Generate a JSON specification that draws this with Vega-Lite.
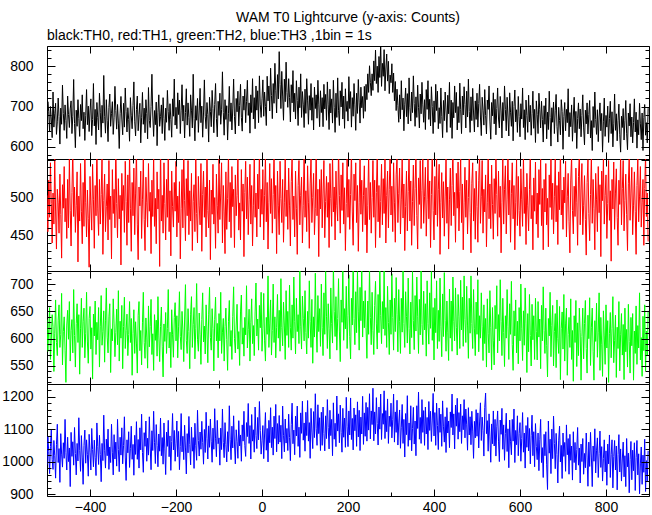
{
"$schema": "https://vega.github.io/schema/vega-lite/v6.json",
"background": "white",
"padding": {"left": 1, "right": 4, "top": 10, "bottom": 0},
"spacing": 0,
"bounds": "flush",
"title": {"text": "WAM T0 Lightcurve (y-axis: Counts)", "fontSize": 14, "font": "Liberation Sans", "fontWeight": "normal", "anchor": "middle", "frame": "group", "offset": 4, "color": "black"},
"config": {"view": {"stroke": "black", "strokeWidth": 1}, "concat": {"spacing": 0}, "font": "Liberation Sans"},
"data": {"values": [
{"t":-500,"a":655,"b":503,"c":635,"d":992},{"t":-498,"a":712,"b":455,"c":577,"d":1079},{"t":-496,"a":687,"b":523,"c":617,"d":1032},{"t":-494,"a":638,"b":474,"c":657,"d":964},{"t":-492,"a":700,"b":546,"c":562,"d":1047},{"t":-490,"a":669,"b":492,"c":598,"d":1100},{"t":-488,"a":623,"b":440,"c":644,"d":1007},{"t":-486,"a":736,"b":506,"c":622,"d":977},{"t":-484,"a":649,"b":465,"c":540,"d":1066},{"t":-482,"a":682,"b":553,"c":610,"d":1019},
{"t":-480,"a":708,"b":481,"c":671,"d":950},{"t":-478,"a":631,"b":432,"c":593,"d":1053},{"t":-476,"a":662,"b":511,"c":569,"d":1116},{"t":-474,"a":721,"b":493,"c":634,"d":998},{"t":-472,"a":675,"b":453,"c":662,"d":1041},{"t":-470,"a":607,"b":531,"c":584,"d":937},{"t":-468,"a":696,"b":478,"c":608,"d":1087},{"t":-466,"a":656,"b":420,"c":683,"d":1024},{"t":-464,"a":753,"b":517,"c":552,"d":984},{"t":-462,"a":683,"b":486,"c":613,"d":1059},
{"t":-460,"a":641,"b":541,"c":640,"d":1011},{"t":-458,"a":704,"b":468,"c":579,"d":1131},{"t":-456,"a":665,"b":499,"c":520,"d":1028},{"t":-454,"a":621,"b":446,"c":625,"d":975},{"t":-452,"a":726,"b":524,"c":652,"d":1076},{"t":-450,"a":680,"b":460,"c":599,"d":1001},{"t":-448,"a":648,"b":551,"c":668,"d":1043},{"t":-446,"a":694,"b":483,"c":559,"d":924},{"t":-444,"a":714,"b":436,"c":615,"d":1091},{"t":-442,"a":633,"b":507,"c":635,"d":1017},
{"t":-440,"a":676,"b":565,"c":574,"d":1062},{"t":-438,"a":767,"b":475,"c":690,"d":990},{"t":-436,"a":658,"b":514,"c":606,"d":1106},{"t":-434,"a":598,"b":454,"c":548,"d":1026},{"t":-432,"a":691,"b":490,"c":628,"d":960},{"t":-430,"a":651,"b":534,"c":664,"d":1057},{"t":-428,"a":717,"b":415,"c":593,"d":1003},{"t":-426,"a":670,"b":502,"c":644,"d":1136},{"t":-424,"a":626,"b":469,"c":535,"d":1036},{"t":-422,"a":705,"b":545,"c":618,"d":971},
{"t":-420,"a":665,"b":482,"c":674,"d":1081},{"t":-418,"a":729,"b":439,"c":584,"d":1015},{"t":-416,"a":645,"b":520,"c":632,"d":931},{"t":-414,"a":686,"b":462,"c":656,"d":1051},{"t":-412,"a":616,"b":560,"c":565,"d":1098},{"t":-410,"a":677,"b":493,"c":610,"d":996},{"t":-408,"a":742,"b":448,"c":685,"d":1068},{"t":-406,"a":655,"b":510,"c":594,"d":1022},{"t":-404,"a":701,"b":472,"c":555,"d":956},{"t":-402,"a":638,"b":408,"c":637,"d":1085},
{"t":-400,"a":689,"b":528,"c":659,"d":1030},{"t":-398,"a":719,"b":489,"c":581,"d":975},{"t":-396,"a":628,"b":457,"c":620,"d":1103},{"t":-394,"a":668,"b":544,"c":526,"d":1038},{"t":-392,"a":757,"b":497,"c":645,"d":985},{"t":-390,"a":652,"b":433,"c":605,"d":1067},{"t":-388,"a":693,"b":516,"c":669,"d":1013},{"t":-386,"a":606,"b":476,"c":571,"d":958},{"t":-384,"a":710,"b":570,"c":630,"d":1120},{"t":-382,"a":673,"b":485,"c":598,"d":1048},
{"t":-380,"a":642,"b":450,"c":657,"d":992},{"t":-378,"a":733,"b":524,"c":548,"d":1082},{"t":-376,"a":686,"b":465,"c":623,"d":1023},{"t":-374,"a":624,"b":504,"c":679,"d":939},{"t":-372,"a":703,"b":555,"c":588,"d":1057},{"t":-370,"a":659,"b":425,"c":613,"d":1004},{"t":-368,"a":777,"b":496,"c":651,"d":1144},{"t":-366,"a":676,"b":531,"c":557,"d":1036},{"t":-364,"a":634,"b":455,"c":634,"d":981},{"t":-362,"a":717,"b":488,"c":693,"d":1070},
{"t":-360,"a":666,"b":518,"c":603,"d":1019},{"t":-358,"a":613,"b":444,"c":574,"d":1101},{"t":-356,"a":698,"b":549,"c":640,"d":977},{"t":-354,"a":731,"b":471,"c":664,"d":1046},{"t":-352,"a":651,"b":502,"c":538,"d":998},{"t":-350,"a":683,"b":419,"c":618,"d":1116},{"t":-348,"a":712,"b":537,"c":596,"d":1030},{"t":-346,"a":631,"b":479,"c":673,"d":960},{"t":-344,"a":672,"b":511,"c":627,"d":1084},{"t":-342,"a":750,"b":460,"c":567,"d":1009},
{"t":-340,"a":690,"b":569,"c":611,"d":1061},{"t":-338,"a":644,"b":492,"c":654,"d":987},{"t":-336,"a":705,"b":447,"c":589,"d":1131},{"t":-334,"a":659,"b":525,"c":688,"d":1038},{"t":-332,"a":596,"b":472,"c":559,"d":970},{"t":-330,"a":682,"b":503,"c":632,"d":1076},{"t":-328,"a":725,"b":411,"c":601,"d":1021},{"t":-326,"a":669,"b":532,"c":661,"d":1105},{"t":-324,"a":630,"b":483,"c":545,"d":994},{"t":-322,"a":708,"b":516,"c":622,"d":1051},
{"t":-320,"a":649,"b":454,"c":676,"d":1139},{"t":-318,"a":746,"b":548,"c":582,"d":1015},{"t":-316,"a":687,"b":495,"c":615,"d":943},{"t":-314,"a":637,"b":437,"c":645,"d":1068},{"t":-312,"a":697,"b":530,"c":569,"d":1028},{"t":-310,"a":668,"b":467,"c":608,"d":1093},{"t":-308,"a":614,"b":559,"c":668,"d":983},{"t":-306,"a":722,"b":486,"c":593,"d":1042},{"t":-304,"a":677,"b":429,"c":637,"d":1110},{"t":-302,"a":645,"b":520,"c":533,"d":1008},
{"t":-300,"a":703,"b":476,"c":610,"d":1054},{"t":-298,"a":761,"b":539,"c":653,"d":959},{"t":-296,"a":662,"b":451,"c":573,"d":1082},{"t":-294,"a":627,"b":506,"c":631,"d":1023},{"t":-292,"a":693,"b":565,"c":592,"d":1124},{"t":-290,"a":726,"b":465,"c":537,"d":1008},{"t":-288,"a":640,"b":418,"c":643,"d":1069},{"t":-286,"a":680,"b":514,"c":668,"d":981},{"t":-284,"a":708,"b":489,"c":578,"d":1105},{"t":-282,"a":610,"b":535,"c":615,"d":1037},
{"t":-280,"a":672,"b":446,"c":552,"d":1147},{"t":-278,"a":735,"b":497,"c":629,"d":1029},{"t":-276,"a":656,"b":552,"c":685,"d":968},{"t":-274,"a":696,"b":471,"c":593,"d":1090},{"t":-272,"a":635,"b":430,"c":564,"d":1048},{"t":-270,"a":717,"b":527,"c":638,"d":1126},{"t":-268,"a":683,"b":493,"c":603,"d":1002},{"t":-266,"a":620,"b":461,"c":546,"d":1073},{"t":-264,"a":747,"b":545,"c":660,"d":1021},{"t":-262,"a":665,"b":482,"c":585,"d":1139},
{"t":-260,"a":648,"b":507,"c":622,"d":1046},{"t":-258,"a":700,"b":426,"c":672,"d":976},{"t":-256,"a":780,"b":523,"c":571,"d":1096},{"t":-254,"a":679,"b":475,"c":609,"d":1035},{"t":-252,"a":626,"b":558,"c":542,"d":1156},{"t":-250,"a":690,"b":462,"c":644,"d":1059},{"t":-248,"a":655,"b":499,"c":597,"d":995},{"t":-246,"a":711,"b":439,"c":634,"d":1115},{"t":-244,"a":603,"b":534,"c":568,"d":1050},{"t":-242,"a":686,"b":485,"c":677,"d":985},
{"t":-240,"a":729,"b":511,"c":605,"d":1086},{"t":-238,"a":651,"b":409,"c":558,"d":1033},{"t":-236,"a":675,"b":574,"c":622,"d":1135},{"t":-234,"a":704,"b":469,"c":658,"d":1019},{"t":-232,"a":633,"b":503,"c":585,"d":1075},{"t":-230,"a":722,"b":453,"c":530,"d":993},{"t":-228,"a":670,"b":546,"c":627,"d":1120},{"t":-226,"a":616,"b":492,"c":595,"d":1040},{"t":-224,"a":696,"b":444,"c":648,"d":961},{"t":-222,"a":661,"b":524,"c":573,"d":1092},
{"t":-220,"a":740,"b":474,"c":619,"d":1048},{"t":-218,"a":687,"b":556,"c":690,"d":1128},{"t":-216,"a":641,"b":455,"c":583,"d":1016},{"t":-214,"a":707,"b":509,"c":612,"d":1080},{"t":-212,"a":668,"b":423,"c":547,"d":974},{"t":-210,"a":624,"b":535,"c":653,"d":1063},{"t":-208,"a":719,"b":488,"c":607,"d":1149},{"t":-206,"a":676,"b":461,"c":566,"d":1037},{"t":-204,"a":768,"b":520,"c":639,"d":1097},{"t":-202,"a":654,"b":482,"c":666,"d":1002},
{"t":-200,"a":698,"b":548,"c":596,"d":1058},{"t":-198,"a":645,"b":448,"c":642,"d":1126},{"t":-196,"a":734,"b":502,"c":565,"d":1016},{"t":-194,"a":680,"b":467,"c":623,"d":1094},{"t":-192,"a":716,"b":521,"c":686,"d":976},{"t":-190,"a":633,"b":419,"c":604,"d":1048},{"t":-188,"a":691,"b":486,"c":580,"d":1149},{"t":-186,"a":754,"b":537,"c":650,"d":1031},{"t":-184,"a":664,"b":460,"c":616,"d":1079},{"t":-182,"a":703,"b":563,"c":558,"d":1007},
{"t":-180,"a":622,"b":496,"c":636,"d":1113},{"t":-178,"a":685,"b":443,"c":699,"d":1043},{"t":-176,"a":744,"b":525,"c":597,"d":963},{"t":-174,"a":654,"b":476,"c":573,"d":1087},{"t":-172,"a":709,"b":549,"c":655,"d":1028},{"t":-170,"a":673,"b":451,"c":613,"d":1140},{"t":-168,"a":626,"b":509,"c":545,"d":1054},{"t":-166,"a":729,"b":469,"c":645,"d":991},{"t":-164,"a":691,"b":532,"c":677,"d":1107},{"t":-162,"a":647,"b":430,"c":584,"d":1033},
{"t":-160,"a":780,"b":495,"c":626,"d":1075},{"t":-158,"a":671,"b":517,"c":657,"d":980},{"t":-156,"a":615,"b":455,"c":563,"d":1119},{"t":-154,"a":702,"b":560,"c":618,"d":1050},{"t":-152,"a":666,"b":479,"c":701,"d":1005},{"t":-150,"a":720,"b":440,"c":599,"d":1159},{"t":-148,"a":636,"b":528,"c":577,"d":1066},{"t":-146,"a":689,"b":489,"c":647,"d":1018},{"t":-144,"a":745,"b":464,"c":607,"d":1092},{"t":-142,"a":660,"b":545,"c":553,"d":1039},
{"t":-140,"a":701,"b":429,"c":635,"d":1125},{"t":-138,"a":624,"b":504,"c":684,"d":1060},{"t":-136,"a":684,"b":535,"c":594,"d":993},{"t":-134,"a":766,"b":474,"c":623,"d":1100},{"t":-132,"a":675,"b":514,"c":572,"d":1029},{"t":-130,"a":645,"b":448,"c":662,"d":1153},{"t":-128,"a":710,"b":567,"c":614,"d":1073},{"t":-126,"a":680,"b":483,"c":556,"d":1009},{"t":-124,"a":612,"b":460,"c":645,"d":1111},{"t":-122,"a":723,"b":523,"c":694,"d":1045},
{"t":-120,"a":688,"b":418,"c":602,"d":1132},{"t":-118,"a":650,"b":510,"c":579,"d":1062},{"t":-116,"a":740,"b":478,"c":655,"d":999},{"t":-114,"a":695,"b":544,"c":619,"d":1104},{"t":-112,"a":635,"b":465,"c":541,"d":1039},{"t":-110,"a":705,"b":500,"c":635,"d":1164},{"t":-108,"a":757,"b":433,"c":676,"d":1071},{"t":-106,"a":670,"b":531,"c":596,"d":1016},{"t":-104,"a":625,"b":490,"c":628,"d":1128},{"t":-102,"a":713,"b":453,"c":565,"d":1056},
{"t":-100,"a":678,"b":553,"c":646,"d":1074},{"t":-98,"a":733,"b":471,"c":596,"d":990},{"t":-96,"a":656,"b":506,"c":685,"d":1104},{"t":-94,"a":692,"b":546,"c":573,"d":1038},{"t":-92,"a":786,"b":440,"c":612,"d":1163},{"t":-90,"a":685,"b":516,"c":637,"d":1060},{"t":-88,"a":629,"b":481,"c":559,"d":1013},{"t":-86,"a":717,"b":426,"c":622,"d":1121},{"t":-84,"a":668,"b":534,"c":656,"d":1053},{"t":-82,"a":702,"b":458,"c":598,"d":1000},
{"t":-80,"a":617,"b":499,"c":542,"d":1093},{"t":-78,"a":682,"b":559,"c":631,"d":1032},{"t":-76,"a":750,"b":468,"c":670,"d":1173},{"t":-74,"a":663,"b":520,"c":586,"d":1068},{"t":-72,"a":709,"b":447,"c":615,"d":1007},{"t":-70,"a":642,"b":541,"c":562,"d":1110},{"t":-68,"a":694,"b":488,"c":641,"d":1043},{"t":-66,"a":768,"b":511,"c":695,"d":1142},{"t":-64,"a":675,"b":434,"c":600,"d":1055},{"t":-62,"a":632,"b":530,"c":574,"d":994},
{"t":-60,"a":720,"b":476,"c":625,"d":1099},{"t":-58,"a":687,"b":503,"c":663,"d":1062},{"t":-56,"a":738,"b":556,"c":581,"d":1011},{"t":-54,"a":652,"b":457,"c":613,"d":1127},{"t":-52,"a":703,"b":493,"c":551,"d":1049},{"t":-50,"a":755,"b":444,"c":649,"d":1083},{"t":-48,"a":673,"b":537,"c":680,"d":1002},{"t":-46,"a":639,"b":482,"c":590,"d":1114},{"t":-44,"a":726,"b":518,"c":620,"d":1064},{"t":-42,"a":691,"b":422,"c":568,"d":1156},
{"t":-40,"a":743,"b":507,"c":639,"d":1051},{"t":-38,"a":660,"b":548,"c":607,"d":1017},{"t":-36,"a":713,"b":472,"c":697,"d":1121},{"t":-34,"a":765,"b":527,"c":583,"d":1078},{"t":-32,"a":678,"b":451,"c":617,"d":1180},{"t":-30,"a":709,"b":497,"c":654,"d":1057},{"t":-28,"a":634,"b":544,"c":559,"d":1112},{"t":-26,"a":729,"b":465,"c":629,"d":1009},{"t":-24,"a":685,"b":516,"c":673,"d":1146},{"t":-22,"a":769,"b":436,"c":591,"d":1064},
{"t":-20,"a":669,"b":489,"c":624,"d":1099},{"t":-18,"a":722,"b":551,"c":569,"d":1030},{"t":-16,"a":645,"b":474,"c":649,"d":1169},{"t":-14,"a":751,"b":506,"c":702,"d":1081},{"t":-12,"a":691,"b":448,"c":605,"d":1041},{"t":-10,"a":739,"b":531,"c":636,"d":1137},{"t":-8,"a":660,"b":485,"c":579,"d":1068},{"t":-6,"a":776,"b":565,"c":661,"d":1186},{"t":-4,"a":704,"b":461,"c":620,"d":1097},{"t":-2,"a":673,"b":511,"c":685,"d":1024},
{"t":0,"a":719,"b":478,"c":577,"d":1065},{"t":2,"a":766,"b":537,"c":618,"d":1112},{"t":4,"a":676,"b":444,"c":683,"d":1010},{"t":6,"a":736,"b":503,"c":596,"d":1086},{"t":8,"a":700,"b":555,"c":559,"d":1152},{"t":10,"a":653,"b":468,"c":639,"d":1036},{"t":12,"a":775,"b":520,"c":608,"d":1103},{"t":14,"a":714,"b":432,"c":715,"d":1000},{"t":16,"a":751,"b":493,"c":584,"d":1128},{"t":18,"a":689,"b":545,"c":627,"d":1059},
{"t":20,"a":795,"b":479,"c":671,"d":1167},{"t":22,"a":727,"b":525,"c":570,"d":1044},{"t":24,"a":670,"b":453,"c":615,"d":1107},{"t":26,"a":757,"b":504,"c":700,"d":1021},{"t":28,"a":708,"b":560,"c":593,"d":1141},{"t":30,"a":807,"b":472,"c":640,"d":1072},{"t":32,"a":739,"b":516,"c":565,"d":1177},{"t":34,"a":684,"b":426,"c":621,"d":1031},{"t":36,"a":779,"b":535,"c":681,"d":1118},{"t":38,"a":719,"b":489,"c":601,"d":1055},
{"t":40,"a":836,"b":451,"c":652,"d":1143},{"t":42,"a":755,"b":548,"c":577,"d":1061},{"t":44,"a":695,"b":499,"c":710,"d":1113},{"t":46,"a":787,"b":467,"c":620,"d":1010},{"t":48,"a":726,"b":524,"c":587,"d":1172},{"t":50,"a":666,"b":441,"c":667,"d":1082},{"t":52,"a":768,"b":493,"c":625,"d":1031},{"t":54,"a":712,"b":558,"c":562,"d":1132},{"t":56,"a":810,"b":475,"c":688,"d":1058},{"t":58,"a":735,"b":510,"c":606,"d":1103},
{"t":60,"a":698,"b":458,"c":650,"d":1035},{"t":62,"a":769,"b":539,"c":584,"d":1147},{"t":64,"a":722,"b":489,"c":698,"d":1075},{"t":66,"a":662,"b":436,"c":620,"d":1004},{"t":68,"a":754,"b":521,"c":579,"d":1115},{"t":70,"a":709,"b":553,"c":662,"d":1181},{"t":72,"a":789,"b":471,"c":601,"d":1056},{"t":74,"a":687,"b":502,"c":713,"d":1098},{"t":76,"a":733,"b":448,"c":632,"d":1022},{"t":78,"a":669,"b":535,"c":572,"d":1141},
{"t":80,"a":764,"b":486,"c":674,"d":1080},{"t":82,"a":715,"b":425,"c":613,"d":1172},{"t":84,"a":653,"b":516,"c":644,"d":1048},{"t":86,"a":748,"b":549,"c":591,"d":1107},{"t":88,"a":697,"b":464,"c":727,"d":1014},{"t":90,"a":781,"b":503,"c":623,"d":1151},{"t":92,"a":673,"b":527,"c":581,"d":1088},{"t":94,"a":737,"b":440,"c":678,"d":1187},{"t":96,"a":706,"b":490,"c":637,"d":1067},{"t":98,"a":648,"b":562,"c":596,"d":1120},
{"t":100,"a":743,"b":474,"c":688,"d":1033},{"t":102,"a":683,"b":509,"c":611,"d":1153},{"t":104,"a":769,"b":455,"c":572,"d":1081},{"t":106,"a":716,"b":542,"c":650,"d":1189},{"t":108,"a":656,"b":493,"c":601,"d":1064},{"t":110,"a":727,"b":433,"c":706,"d":1121},{"t":112,"a":691,"b":518,"c":631,"d":1011},{"t":114,"a":757,"b":552,"c":584,"d":1165},{"t":116,"a":666,"b":467,"c":672,"d":1092},{"t":118,"a":722,"b":500,"c":555,"d":1041},
{"t":120,"a":642,"b":532,"c":640,"d":1155},{"t":122,"a":748,"b":451,"c":603,"d":1075},{"t":124,"a":695,"b":486,"c":720,"d":1210},{"t":126,"a":729,"b":570,"c":625,"d":1102},{"t":128,"a":671,"b":476,"c":575,"d":1051},{"t":130,"a":765,"b":511,"c":679,"d":1176},{"t":132,"a":706,"b":422,"c":613,"d":1087},{"t":134,"a":650,"b":524,"c":655,"d":1136},{"t":136,"a":739,"b":485,"c":586,"d":1035},{"t":138,"a":685,"b":537,"c":700,"d":1153},
{"t":140,"a":722,"b":460,"c":621,"d":1051},{"t":142,"a":650,"b":506,"c":569,"d":1169},{"t":144,"a":755,"b":549,"c":684,"d":1087},{"t":146,"a":694,"b":447,"c":608,"d":1034},{"t":148,"a":730,"b":495,"c":723,"d":1142},{"t":150,"a":666,"b":528,"c":640,"d":1072},{"t":152,"a":761,"b":474,"c":582,"d":1192},{"t":154,"a":704,"b":520,"c":664,"d":1106},{"t":156,"a":643,"b":434,"c":618,"d":1040},{"t":158,"a":743,"b":545,"c":563,"d":1159},
{"t":160,"a":684,"b":499,"c":693,"d":1081},{"t":162,"a":719,"b":462,"c":628,"d":1131},{"t":164,"a":659,"b":559,"c":592,"d":1019},{"t":166,"a":765,"b":481,"c":735,"d":1182},{"t":168,"a":697,"b":514,"c":650,"d":1070},{"t":170,"a":636,"b":444,"c":604,"d":1119},{"t":172,"a":733,"b":535,"c":677,"d":1047},{"t":174,"a":673,"b":490,"c":579,"d":1203},{"t":176,"a":771,"b":469,"c":637,"d":1095},{"t":178,"a":691,"b":566,"c":710,"d":1148},
{"t":180,"a":653,"b":503,"c":614,"d":1059},{"t":182,"a":739,"b":453,"c":558,"d":1175},{"t":184,"a":699,"b":530,"c":671,"d":1091},{"t":186,"a":760,"b":483,"c":630,"d":1030},{"t":188,"a":669,"b":546,"c":742,"d":1165},{"t":190,"a":726,"b":465,"c":597,"d":1076},{"t":192,"a":646,"b":513,"c":655,"d":1135},{"t":194,"a":744,"b":430,"c":618,"d":1045},{"t":196,"a":688,"b":492,"c":696,"d":1199},{"t":198,"a":713,"b":552,"c":582,"d":1108},
{"t":200,"a":664,"b":474,"c":643,"d":1047},{"t":202,"a":774,"b":524,"c":717,"d":1157},{"t":204,"a":695,"b":458,"c":604,"d":1083},{"t":206,"a":737,"b":504,"c":563,"d":1197},{"t":208,"a":649,"b":562,"c":674,"d":1069},{"t":210,"a":722,"b":481,"c":625,"d":1134},{"t":212,"a":676,"b":437,"c":745,"d":1037},{"t":214,"a":757,"b":531,"c":637,"d":1166},{"t":216,"a":704,"b":496,"c":589,"d":1096},{"t":218,"a":641,"b":546,"c":686,"d":1145},
{"t":220,"a":733,"b":467,"c":611,"d":1048},{"t":222,"a":683,"b":516,"c":723,"d":1185},{"t":224,"a":767,"b":429,"c":649,"d":1077},{"t":226,"a":709,"b":493,"c":579,"d":1159},{"t":228,"a":659,"b":555,"c":694,"d":1035},{"t":230,"a":748,"b":478,"c":633,"d":1138},{"t":232,"a":697,"b":523,"c":735,"d":1086},{"t":234,"a":725,"b":455,"c":603,"d":1202},{"t":236,"a":671,"b":503,"c":669,"d":1054},{"t":238,"a":750,"b":542,"c":620,"d":1151},
{"t":240,"a":688,"b":464,"c":688,"d":1079},{"t":242,"a":755,"b":513,"c":620,"d":1183},{"t":244,"a":717,"b":427,"c":564,"d":1064},{"t":246,"a":781,"b":490,"c":669,"d":1168},{"t":248,"a":735,"b":558,"c":608,"d":1098},{"t":250,"a":801,"b":471,"c":730,"d":1210},{"t":252,"a":760,"b":520,"c":639,"d":1071},{"t":254,"a":727,"b":453,"c":589,"d":1157},{"t":256,"a":781,"b":500,"c":685,"d":1115},{"t":258,"a":740,"b":549,"c":615,"d":1227},
{"t":260,"a":813,"b":474,"c":571,"d":1065},{"t":262,"a":764,"b":523,"c":661,"d":1154},{"t":264,"a":840,"b":434,"c":705,"d":1086},{"t":266,"a":757,"b":507,"c":627,"d":1198},{"t":268,"a":800,"b":560,"c":581,"d":1118},{"t":270,"a":735,"b":468,"c":681,"d":1052},{"t":272,"a":824,"b":516,"c":611,"d":1169},{"t":274,"a":772,"b":447,"c":736,"d":1101},{"t":276,"a":858,"b":495,"c":642,"d":1209},{"t":278,"a":750,"b":544,"c":591,"d":1069},
{"t":280,"a":807,"b":464,"c":668,"d":1149},{"t":282,"a":775,"b":525,"c":618,"d":1116},{"t":284,"a":841,"b":479,"c":725,"d":1219},{"t":286,"a":739,"b":556,"c":606,"d":1072},{"t":288,"a":793,"b":440,"c":657,"d":1158},{"t":290,"a":830,"b":503,"c":584,"d":1093},{"t":292,"a":763,"b":535,"c":696,"d":1194},{"t":294,"a":812,"b":460,"c":630,"d":1057},{"t":296,"a":732,"b":511,"c":571,"d":1141},{"t":298,"a":778,"b":565,"c":671,"d":1109},
{"t":300,"a":759,"b":477,"c":608,"d":1181},{"t":302,"a":806,"b":515,"c":719,"d":1074},{"t":304,"a":735,"b":455,"c":639,"d":1130},{"t":306,"a":783,"b":546,"c":579,"d":1209},{"t":308,"a":714,"b":493,"c":674,"d":1061},{"t":310,"a":762,"b":441,"c":613,"d":1154},{"t":312,"a":690,"b":530,"c":712,"d":1091},{"t":314,"a":743,"b":554,"c":645,"d":1190},{"t":316,"a":703,"b":467,"c":576,"d":1052},{"t":318,"a":661,"b":505,"c":690,"d":1120},
{"t":320,"a":729,"b":539,"c":631,"d":1160},{"t":322,"a":669,"b":452,"c":573,"d":1042},{"t":324,"a":764,"b":498,"c":674,"d":1107},{"t":326,"a":692,"b":551,"c":612,"d":1177},{"t":328,"a":721,"b":473,"c":732,"d":1057},{"t":330,"a":640,"b":518,"c":628,"d":1131},{"t":332,"a":706,"b":430,"c":584,"d":1015},{"t":334,"a":746,"b":488,"c":686,"d":1149},{"t":336,"a":675,"b":535,"c":641,"d":1084},{"t":338,"a":732,"b":456,"c":592,"d":1204},
{"t":340,"a":657,"b":508,"c":711,"d":1048},{"t":342,"a":771,"b":558,"c":619,"d":1120},{"t":344,"a":697,"b":469,"c":572,"d":1067},{"t":346,"a":664,"b":522,"c":667,"d":1173},{"t":348,"a":736,"b":437,"c":602,"d":1034},{"t":350,"a":685,"b":495,"c":723,"d":1103},{"t":352,"a":776,"b":543,"c":633,"d":1168},{"t":354,"a":708,"b":463,"c":580,"d":1055},{"t":356,"a":651,"b":512,"c":679,"d":1126},{"t":358,"a":724,"b":563,"c":614,"d":1019},
{"t":360,"a":673,"b":476,"c":713,"d":1173},{"t":362,"a":753,"b":432,"c":640,"d":1103},{"t":364,"a":697,"b":526,"c":573,"d":1215},{"t":366,"a":647,"b":491,"c":672,"d":1070},{"t":368,"a":731,"b":549,"c":607,"d":1137},{"t":370,"a":682,"b":459,"c":733,"d":1057},{"t":372,"a":760,"b":509,"c":626,"d":1192},{"t":374,"a":704,"b":554,"c":589,"d":1091},{"t":376,"a":661,"b":466,"c":687,"d":1158},{"t":378,"a":717,"b":501,"c":616,"d":1051},
{"t":380,"a":643,"b":540,"c":664,"d":1169},{"t":382,"a":742,"b":449,"c":568,"d":1086},{"t":384,"a":693,"b":497,"c":706,"d":1137},{"t":386,"a":764,"b":551,"c":628,"d":1038},{"t":388,"a":668,"b":472,"c":590,"d":1186},{"t":390,"a":718,"b":522,"c":684,"d":1097},{"t":392,"a":652,"b":434,"c":619,"d":1156},{"t":394,"a":749,"b":504,"c":723,"d":1063},{"t":396,"a":700,"b":564,"c":597,"d":1129},{"t":398,"a":633,"b":483,"c":657,"d":1211},
{"t":400,"a":714,"b":444,"c":561,"d":1080},{"t":402,"a":661,"b":528,"c":674,"d":1152},{"t":404,"a":755,"b":477,"c":611,"d":1051},{"t":406,"a":690,"b":560,"c":706,"d":1181},{"t":408,"a":738,"b":462,"c":582,"d":1112},{"t":410,"a":645,"b":511,"c":652,"d":1038},{"t":412,"a":697,"b":544,"c":595,"d":1166},{"t":414,"a":658,"b":425,"c":711,"d":1091},{"t":416,"a":746,"b":494,"c":623,"d":1147},{"t":418,"a":676,"b":533,"c":567,"d":1048},
{"t":420,"a":623,"b":473,"c":682,"d":1188},{"t":422,"a":715,"b":521,"c":604,"d":1108},{"t":424,"a":665,"b":449,"c":721,"d":1061},{"t":426,"a":736,"b":502,"c":633,"d":1139},{"t":428,"a":689,"b":554,"c":577,"d":1029},{"t":430,"a":636,"b":466,"c":669,"d":1167},{"t":432,"a":728,"b":514,"c":612,"d":1089},{"t":434,"a":682,"b":432,"c":560,"d":1126},{"t":436,"a":760,"b":497,"c":691,"d":1044},{"t":438,"a":648,"b":539,"c":601,"d":1154},
{"t":440,"a":716,"b":463,"c":669,"d":1106},{"t":442,"a":621,"b":516,"c":577,"d":1209},{"t":444,"a":710,"b":563,"c":713,"d":1083},{"t":446,"a":672,"b":476,"c":632,"d":1148},{"t":448,"a":751,"b":507,"c":596,"d":1040},{"t":450,"a":685,"b":441,"c":693,"d":1175},{"t":452,"a":735,"b":532,"c":621,"d":1110},{"t":454,"a":642,"b":486,"c":570,"d":1196},{"t":456,"a":700,"b":547,"c":681,"d":1070},{"t":458,"a":660,"b":456,"c":640,"d":1152},
{"t":460,"a":758,"b":508,"c":582,"d":1093},{"t":462,"a":692,"b":551,"c":707,"d":1178},{"t":464,"a":633,"b":467,"c":616,"d":1057},{"t":466,"a":726,"b":518,"c":676,"d":1142},{"t":468,"a":679,"b":431,"c":586,"d":1099},{"t":470,"a":749,"b":493,"c":715,"d":1192},{"t":472,"a":705,"b":540,"c":635,"d":1074},{"t":474,"a":647,"b":474,"c":593,"d":1163},{"t":476,"a":738,"b":523,"c":696,"d":1114},{"t":478,"a":674,"b":452,"c":625,"d":1036},
{"t":480,"a":768,"b":500,"c":564,"d":1167},{"t":482,"a":688,"b":556,"c":674,"d":1083},{"t":484,"a":636,"b":480,"c":610,"d":1139},{"t":486,"a":724,"b":427,"c":715,"d":1053},{"t":488,"a":665,"b":519,"c":628,"d":1156},{"t":490,"a":745,"b":546,"c":582,"d":1095},{"t":492,"a":684,"b":469,"c":690,"d":1011},{"t":494,"a":637,"b":512,"c":618,"d":1125},{"t":496,"a":714,"b":445,"c":569,"d":1074},{"t":498,"a":668,"b":535,"c":667,"d":1161},
{"t":500,"a":733,"b":488,"c":608,"d":1079},{"t":502,"a":649,"b":441,"c":708,"d":1151},{"t":504,"a":707,"b":523,"c":576,"d":1043},{"t":506,"a":755,"b":558,"c":642,"d":1123},{"t":508,"a":674,"b":466,"c":601,"d":1182},{"t":510,"a":628,"b":501,"c":684,"d":1066},{"t":512,"a":723,"b":549,"c":623,"d":1138},{"t":514,"a":691,"b":453,"c":560,"d":1096},{"t":516,"a":654,"b":511,"c":662,"d":1018},{"t":518,"a":742,"b":481,"c":591,"d":1168},
{"t":520,"a":678,"b":530,"c":637,"d":1212},{"t":522,"a":632,"b":435,"c":548,"d":1087},{"t":524,"a":716,"b":494,"c":673,"d":1127},{"t":526,"a":693,"b":561,"c":610,"d":1033},{"t":528,"a":751,"b":472,"c":574,"d":1148},{"t":530,"a":664,"b":518,"c":688,"d":1077},{"t":532,"a":619,"b":459,"c":621,"d":999},{"t":534,"a":710,"b":543,"c":543,"d":1117},{"t":536,"a":677,"b":491,"c":657,"d":1056},{"t":538,"a":734,"b":445,"c":596,"d":1157},
{"t":540,"a":657,"b":525,"c":552,"d":1049},{"t":542,"a":718,"b":479,"c":661,"d":1131},{"t":544,"a":630,"b":554,"c":618,"d":1018},{"t":546,"a":695,"b":504,"c":697,"d":1108},{"t":548,"a":746,"b":449,"c":574,"d":1157},{"t":550,"a":669,"b":535,"c":644,"d":1064},{"t":552,"a":647,"b":474,"c":596,"d":1001},{"t":554,"a":725,"b":515,"c":708,"d":1129},{"t":556,"a":689,"b":427,"c":632,"d":1085},{"t":558,"a":622,"b":494,"c":569,"d":1165},
{"t":560,"a":710,"b":551,"c":674,"d":1039},{"t":562,"a":665,"b":465,"c":611,"d":1114},{"t":564,"a":751,"b":511,"c":549,"d":1005},{"t":566,"a":693,"b":542,"c":642,"d":1087},{"t":568,"a":640,"b":452,"c":601,"d":1150},{"t":570,"a":723,"b":498,"c":690,"d":1032},{"t":572,"a":674,"b":560,"c":623,"d":1102},{"t":574,"a":627,"b":477,"c":562,"d":982},{"t":576,"a":734,"b":523,"c":664,"d":1129},{"t":578,"a":686,"b":441,"c":608,"d":1062},
{"t":580,"a":651,"b":505,"c":705,"d":1022},{"t":582,"a":713,"b":546,"c":589,"d":1131},{"t":584,"a":615,"b":472,"c":542,"d":1064},{"t":586,"a":700,"b":516,"c":651,"d":1163},{"t":588,"a":741,"b":431,"c":605,"d":998},{"t":590,"a":662,"b":493,"c":671,"d":1097},{"t":592,"a":692,"b":550,"c":574,"d":1053},{"t":594,"a":636,"b":463,"c":632,"d":1142},{"t":596,"a":725,"b":528,"c":554,"d":1019},{"t":598,"a":675,"b":483,"c":657,"d":1087},
{"t":600,"a":625,"b":449,"c":596,"d":1121},{"t":602,"a":707,"b":538,"c":700,"d":1002},{"t":604,"a":669,"b":497,"c":618,"d":1072},{"t":606,"a":746,"b":462,"c":560,"d":1152},{"t":608,"a":648,"b":556,"c":651,"d":1030},{"t":610,"a":692,"b":479,"c":588,"d":1089},{"t":612,"a":618,"b":514,"c":693,"d":981},{"t":614,"a":716,"b":438,"c":627,"d":1112},{"t":616,"a":678,"b":532,"c":538,"d":1045},{"t":618,"a":636,"b":489,"c":646,"d":1137},
{"t":620,"a":728,"b":456,"c":576,"d":1034},{"t":622,"a":662,"b":511,"c":681,"d":1103},{"t":624,"a":703,"b":563,"c":606,"d":994},{"t":626,"a":629,"b":472,"c":550,"d":1082},{"t":628,"a":682,"b":503,"c":663,"d":1144},{"t":630,"a":738,"b":431,"c":598,"d":1019},{"t":632,"a":646,"b":526,"c":642,"d":1093},{"t":634,"a":693,"b":482,"c":562,"d":985},{"t":636,"a":611,"b":547,"c":674,"d":1118},{"t":638,"a":714,"b":465,"c":613,"d":1047},
{"t":640,"a":680,"b":506,"c":561,"d":1007},{"t":642,"a":633,"b":447,"c":668,"d":1089},{"t":644,"a":733,"b":537,"c":603,"d":973},{"t":646,"a":692,"b":491,"c":636,"d":1068},{"t":648,"a":647,"b":552,"c":545,"d":1131},{"t":650,"a":713,"b":463,"c":661,"d":998},{"t":652,"a":668,"b":512,"c":596,"d":1044},{"t":654,"a":612,"b":431,"c":695,"d":952},{"t":656,"a":702,"b":524,"c":615,"d":1085},{"t":658,"a":656,"b":481,"c":573,"d":1019},
{"t":660,"a":721,"b":545,"c":656,"d":1093},{"t":662,"a":620,"b":464,"c":588,"d":991},{"t":664,"a":686,"b":499,"c":530,"d":915},{"t":666,"a":643,"b":435,"c":637,"d":1126},{"t":668,"a":738,"b":530,"c":605,"d":1027},{"t":670,"a":673,"b":487,"c":685,"d":1070},{"t":672,"a":602,"b":559,"c":567,"d":964},{"t":674,"a":697,"b":471,"c":624,"d":1101},{"t":676,"a":661,"b":519,"c":661,"d":1010},{"t":678,"a":711,"b":452,"c":550,"d":1141},
{"t":680,"a":633,"b":501,"c":613,"d":1057},{"t":682,"a":691,"b":551,"c":646,"d":979},{"t":684,"a":730,"b":468,"c":547,"d":1088},{"t":686,"a":651,"b":516,"c":671,"d":1023},{"t":688,"a":612,"b":438,"c":600,"d":935},{"t":690,"a":698,"b":534,"c":573,"d":1067},{"t":692,"a":665,"b":484,"c":659,"d":1110},{"t":694,"a":630,"b":565,"c":525,"d":1000},{"t":696,"a":717,"b":477,"c":619,"d":1051},{"t":698,"a":688,"b":510,"c":649,"d":949},
{"t":700,"a":594,"b":458,"c":581,"d":1089},{"t":702,"a":675,"b":527,"c":681,"d":1017},{"t":704,"a":710,"b":493,"c":559,"d":1060},{"t":706,"a":640,"b":548,"c":627,"d":971},{"t":708,"a":693,"b":448,"c":656,"d":1114},{"t":710,"a":660,"b":501,"c":533,"d":1022},{"t":712,"a":744,"b":532,"c":608,"d":1072},{"t":714,"a":625,"b":468,"c":639,"d":962},{"t":716,"a":685,"b":427,"c":584,"d":1085},{"t":718,"a":650,"b":522,"c":673,"d":1005},
{"t":720,"a":704,"b":555,"c":562,"d":1049},{"t":722,"a":614,"b":483,"c":615,"d":944},{"t":724,"a":674,"b":452,"c":522,"d":1093},{"t":726,"a":723,"b":515,"c":642,"d":998},{"t":728,"a":635,"b":475,"c":593,"d":1060},{"t":730,"a":688,"b":539,"c":670,"d":975},{"t":732,"a":596,"b":494,"c":549,"d":1038},{"t":734,"a":670,"b":437,"c":629,"d":1106},{"t":736,"a":709,"b":528,"c":569,"d":990},{"t":738,"a":645,"b":559,"c":656,"d":1043},
{"t":740,"a":694,"b":464,"c":612,"d":935},{"t":742,"a":625,"b":510,"c":524,"d":1055},{"t":744,"a":678,"b":545,"c":604,"d":1001},{"t":746,"a":729,"b":451,"c":656,"d":1072},{"t":748,"a":647,"b":490,"c":563,"d":962},{"t":750,"a":605,"b":529,"c":628,"d":1026},{"t":752,"a":691,"b":471,"c":670,"d":982},{"t":754,"a":657,"b":424,"c":582,"d":1089},{"t":756,"a":709,"b":520,"c":537,"d":1015},{"t":758,"a":632,"b":550,"c":643,"d":925},
{"t":760,"a":680,"b":479,"c":600,"d":1061},{"t":762,"a":715,"b":443,"c":675,"d":986},{"t":764,"a":622,"b":504,"c":551,"d":1091},{"t":766,"a":665,"b":557,"c":621,"d":1015},{"t":768,"a":591,"b":466,"c":656,"d":924},{"t":770,"a":700,"b":524,"c":576,"d":1049},{"t":772,"a":648,"b":486,"c":524,"d":1002},{"t":774,"a":736,"b":431,"c":633,"d":1102},{"t":776,"a":668,"b":532,"c":595,"d":966},{"t":778,"a":631,"b":497,"c":665,"d":1036},
{"t":780,"a":692,"b":455,"c":566,"d":1074},{"t":782,"a":613,"b":541,"c":612,"d":952},{"t":784,"a":674,"b":480,"c":684,"d":1025},{"t":786,"a":709,"b":517,"c":542,"d":1095},{"t":788,"a":640,"b":422,"c":639,"d":983},{"t":790,"a":683,"b":535,"c":590,"d":1047},{"t":792,"a":587,"b":496,"c":531,"d":941},{"t":794,"a":662,"b":553,"c":651,"d":1011},{"t":796,"a":721,"b":465,"c":605,"d":1068},{"t":798,"a":626,"b":503,"c":553,"d":969},
{"t":800,"a":678,"b":530,"c":662,"d":1034},{"t":802,"a":649,"b":446,"c":583,"d":928},{"t":804,"a":701,"b":492,"c":633,"d":1055},{"t":806,"a":611,"b":549,"c":520,"d":994},{"t":808,"a":670,"b":470,"c":609,"d":1083},{"t":810,"a":713,"b":509,"c":648,"d":952},{"t":812,"a":633,"b":416,"c":565,"d":1023},{"t":814,"a":687,"b":524,"c":619,"d":1068},{"t":816,"a":600,"b":485,"c":677,"d":920},{"t":818,"a":657,"b":547,"c":556,"d":1017},
{"t":820,"a":731,"b":458,"c":597,"d":1066},{"t":822,"a":641,"b":506,"c":643,"d":975},{"t":824,"a":682,"b":538,"c":529,"d":1049},{"t":826,"a":615,"b":474,"c":621,"d":914},{"t":828,"a":666,"b":437,"c":582,"d":1023},{"t":830,"a":706,"b":523,"c":668,"d":1084},{"t":832,"a":630,"b":491,"c":541,"d":969},{"t":834,"a":587,"b":559,"c":607,"d":1040},{"t":836,"a":676,"b":464,"c":646,"d":941},{"t":838,"a":648,"b":512,"c":570,"d":1009},
{"t":840,"a":695,"b":549,"c":626,"d":1061},{"t":842,"a":617,"b":456,"c":525,"d":954},{"t":844,"a":665,"b":496,"c":656,"d":1019},{"t":846,"a":715,"b":531,"c":576,"d":924},{"t":848,"a":634,"b":478,"c":617,"d":1072},{"t":850,"a":593,"b":430,"c":548,"d":985},{"t":852,"a":684,"b":519,"c":663,"d":1027},{"t":854,"a":652,"b":555,"c":595,"d":905},{"t":856,"a":707,"b":470,"c":537,"d":1008},{"t":858,"a":625,"b":506,"c":639,"d":1063},
{"t":860,"a":674,"b":540,"c":587,"d":945},{"t":862,"a":610,"b":451,"c":646,"d":1036},{"t":864,"a":660,"b":489,"c":524,"d":973},{"t":866,"a":719,"b":534,"c":614,"d":1059},{"t":868,"a":637,"b":482,"c":573,"d":912},{"t":870,"a":686,"b":425,"c":660,"d":1013},{"t":872,"a":597,"b":516,"c":553,"d":1066},{"t":874,"a":667,"b":552,"c":624,"d":960},{"t":876,"a":630,"b":468,"c":583,"d":1025},{"t":878,"a":708,"b":502,"c":684,"d":902},
{"t":880,"a":657,"b":541,"c":561,"d":994},{"t":882,"a":618,"b":461,"c":602,"d":1046},{"t":884,"a":684,"b":493,"c":531,"d":931},{"t":886,"a":591,"b":524,"c":641,"d":1021},{"t":888,"a":673,"b":437,"c":578,"d":968},{"t":890,"a":705,"b":512,"c":662,"d":1070},{"t":892,"a":629,"b":558,"c":541,"d":909},{"t":894,"a":660,"b":475,"c":614,"d":1004},{"t":896,"a":610,"b":506,"c":570,"d":941},{"t":898,"a":696,"b":442,"c":651,"d":1034}
]},
"vconcat": [
{"width": 602, "height": 113,
 "title": {"text": "black:TH0, red:TH1, green:TH2, blue:TH3 ,1bin = 1s", "anchor": "start", "frame": "group", "fontSize": 14, "font": "Liberation Sans", "fontWeight": "normal", "offset": 0, "color": "black"},
 "layer": [
  {"mark": {"type": "line", "color": "#000000", "strokeWidth": 1, "clip": true},
   "encoding": {
    "x": {"field": "t", "type": "quantitative", "scale": {"domain": [-500, 900], "nice": false, "zero": false},
      "axis": {"orient": "bottom", "title": null, "domain": false, "grid": false, "labels": false, "zindex": 1, "tickColor": "black", "values": [-500,-400,-300,-200,-100,0,100,200,300,400,500,600,700,800,900], "tickSize": {"condition": {"test": "datum.value % 200 === 0", "value": -7}, "value": -4}}},
    "y": {"field": "a", "type": "quantitative", "scale": {"domain": [570, 850], "nice": false, "zero": false},
      "axis": {"orient": "left", "title": null, "domain": false, "grid": false, "zindex": 1, "tickColor": "black", "format": "d", "values": [580,600,620,640,660,680,700,720,740,760,780,800,820,840], "tickSize": {"condition": {"test": "datum.value % 100 === 0", "value": -8}, "value": -4}, "labelExpr": "datum.value % 100 === 0 ? datum.label : ''", "labelFont": "Liberation Sans", "labelFontSize": 14, "labelColor": "black", "labelPadding": 22, "labelOverlap": false, "labelFlush": false}}
   }},
  {"mark": {"type": "line", "strokeOpacity": 0, "clip": true},
   "encoding": {
    "x": {"field": "t", "type": "quantitative",
      "axis": {"orient": "top", "title": null, "domain": false, "grid": false, "labels": false, "zindex": 1, "tickColor": "black", "values": [-500,-400,-300,-200,-100,0,100,200,300,400,500,600,700,800,900], "tickSize": {"condition": {"test": "datum.value % 200 === 0", "value": -7}, "value": -4}}},
    "y": {"field": "a", "type": "quantitative",
      "axis": {"orient": "right", "title": null, "domain": false, "grid": false, "labels": false, "zindex": 1, "tickColor": "black", "values": [580,600,620,640,660,680,700,720,740,760,780,800,820,840], "tickSize": {"condition": {"test": "datum.value % 100 === 0", "value": -8}, "value": -4}}}
   }}
 ],
 "resolve": {"axis": {"x": "independent", "y": "independent"}}
},
{"width": 602, "height": 112,
 "layer": [
  {"mark": {"type": "line", "color": "#ff0000", "strokeWidth": 1, "clip": true},
   "encoding": {
    "x": {"field": "t", "type": "quantitative", "scale": {"domain": [-500, 900], "nice": false, "zero": false},
      "axis": {"orient": "bottom", "title": null, "domain": false, "grid": false, "labels": false, "zindex": 1, "tickColor": "black", "values": [-500,-400,-300,-200,-100,0,100,200,300,400,500,600,700,800,900], "tickSize": {"condition": {"test": "datum.value % 200 === 0", "value": -7}, "value": -4}}},
    "y": {"field": "b", "type": "quantitative", "scale": {"domain": [403, 551], "nice": false, "zero": false},
      "axis": {"orient": "left", "title": null, "domain": false, "grid": false, "zindex": 1, "tickColor": "black", "format": "d", "values": [410,420,430,440,450,460,470,480,490,500,510,520,530,540,550], "tickSize": {"condition": {"test": "datum.value % 50 === 0", "value": -8}, "value": -4}, "labelExpr": "(datum.value === 450 || datum.value === 500) ? datum.label : ''", "labelFont": "Liberation Sans", "labelFontSize": 14, "labelColor": "black", "labelPadding": 22, "labelOverlap": false, "labelFlush": false}}
   }},
  {"mark": {"type": "line", "strokeOpacity": 0, "clip": true},
   "encoding": {
    "x": {"field": "t", "type": "quantitative",
      "axis": {"orient": "top", "title": null, "domain": false, "grid": false, "labels": false, "zindex": 1, "tickColor": "black", "values": [-500,-400,-300,-200,-100,0,100,200,300,400,500,600,700,800,900], "tickSize": {"condition": {"test": "datum.value % 200 === 0", "value": -7}, "value": -4}}},
    "y": {"field": "b", "type": "quantitative",
      "axis": {"orient": "right", "title": null, "domain": false, "grid": false, "labels": false, "zindex": 1, "tickColor": "black", "values": [410,420,430,440,450,460,470,480,490,500,510,520,530,540,550], "tickSize": {"condition": {"test": "datum.value % 50 === 0", "value": -8}, "value": -4}}}
   }}
 ],
 "resolve": {"axis": {"x": "independent", "y": "independent"}}
},
{"width": 602, "height": 113,
 "layer": [
  {"mark": {"type": "line", "color": "#00ff00", "strokeWidth": 1, "clip": true},
   "encoding": {
    "x": {"field": "t", "type": "quantitative", "scale": {"domain": [-500, 900], "nice": false, "zero": false},
      "axis": {"orient": "bottom", "title": null, "domain": false, "grid": false, "labels": false, "zindex": 1, "tickColor": "black", "values": [-500,-400,-300,-200,-100,0,100,200,300,400,500,600,700,800,900], "tickSize": {"condition": {"test": "datum.value % 200 === 0", "value": -7}, "value": -4}}},
    "y": {"field": "c", "type": "quantitative", "scale": {"domain": [517, 724], "nice": false, "zero": false},
      "axis": {"orient": "left", "title": null, "domain": false, "grid": false, "zindex": 1, "tickColor": "black", "format": "d", "values": [520,530,540,550,560,570,580,590,600,610,620,630,640,650,660,670,680,690,700,710,720], "tickSize": {"condition": {"test": "datum.value % 50 === 0", "value": -8}, "value": -4}, "labelExpr": "datum.value % 50 === 0 ? datum.label : ''", "labelFont": "Liberation Sans", "labelFontSize": 14, "labelColor": "black", "labelPadding": 22, "labelOverlap": false, "labelFlush": false}}
   }},
  {"mark": {"type": "line", "strokeOpacity": 0, "clip": true},
   "encoding": {
    "x": {"field": "t", "type": "quantitative",
      "axis": {"orient": "top", "title": null, "domain": false, "grid": false, "labels": false, "zindex": 1, "tickColor": "black", "values": [-500,-400,-300,-200,-100,0,100,200,300,400,500,600,700,800,900], "tickSize": {"condition": {"test": "datum.value % 200 === 0", "value": -7}, "value": -4}}},
    "y": {"field": "c", "type": "quantitative",
      "axis": {"orient": "right", "title": null, "domain": false, "grid": false, "labels": false, "zindex": 1, "tickColor": "black", "values": [520,530,540,550,560,570,580,590,600,610,620,630,640,650,660,670,680,690,700,710,720], "tickSize": {"condition": {"test": "datum.value % 50 === 0", "value": -8}, "value": -4}}}
   }}
 ],
 "resolve": {"axis": {"x": "independent", "y": "independent"}}
},
{"width": 602, "height": 112,
 "layer": [
  {"mark": {"type": "line", "color": "#0000ff", "strokeWidth": 1, "clip": true},
   "encoding": {
    "x": {"field": "t", "type": "quantitative", "scale": {"domain": [-500, 900], "nice": false, "zero": false},
      "axis": {"orient": "bottom", "title": null, "domain": false, "grid": false, "zindex": 1, "tickColor": "black", "values": [-500,-400,-300,-200,-100,0,100,200,300,400,500,600,700,800,900], "tickSize": {"condition": {"test": "datum.value % 200 === 0", "value": -7}, "value": -4}, "labelExpr": "datum.value % 200 === 0 ? datum.label : ''", "labelFont": "Liberation Sans", "labelFontSize": 14, "labelColor": "black", "labelPadding": 11, "labelOverlap": false, "labelFlush": false}},
    "y": {"field": "d", "type": "quantitative", "scale": {"domain": [895, 1240], "nice": false, "zero": false},
      "axis": {"orient": "left", "title": null, "domain": false, "grid": false, "zindex": 1, "tickColor": "black", "format": "d", "values": [900,920,940,960,980,1000,1020,1040,1060,1080,1100,1120,1140,1160,1180,1200,1220,1240], "tickSize": {"condition": {"test": "datum.value % 100 === 0", "value": -8}, "value": -4}, "labelExpr": "datum.value % 100 === 0 ? datum.label : ''", "labelFont": "Liberation Sans", "labelFontSize": 14, "labelColor": "black", "labelPadding": 22, "labelOverlap": false, "labelFlush": false}}
   }},
  {"mark": {"type": "line", "strokeOpacity": 0, "clip": true},
   "encoding": {
    "x": {"field": "t", "type": "quantitative",
      "axis": {"orient": "top", "title": null, "domain": false, "grid": false, "labels": false, "zindex": 1, "tickColor": "black", "values": [-500,-400,-300,-200,-100,0,100,200,300,400,500,600,700,800,900], "tickSize": {"condition": {"test": "datum.value % 200 === 0", "value": -7}, "value": -4}}},
    "y": {"field": "d", "type": "quantitative",
      "axis": {"orient": "right", "title": null, "domain": false, "grid": false, "labels": false, "zindex": 1, "tickColor": "black", "values": [900,920,940,960,980,1000,1020,1040,1060,1080,1100,1120,1140,1160,1180,1200,1220,1240], "tickSize": {"condition": {"test": "datum.value % 100 === 0", "value": -8}, "value": -4}}}
   }}
 ],
 "resolve": {"axis": {"x": "independent", "y": "independent"}}
}
]
}
